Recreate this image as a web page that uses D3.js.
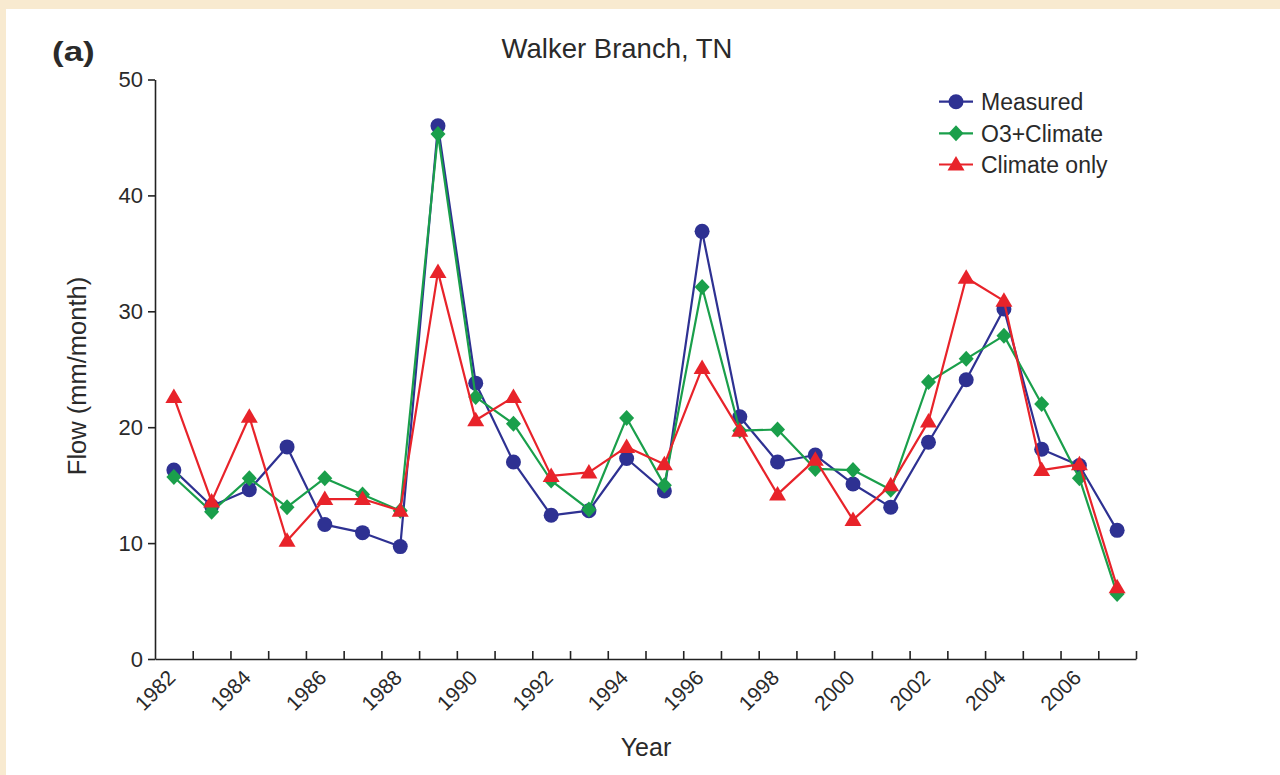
<!DOCTYPE html>
<html>
<head>
<meta charset="utf-8">
<script src="https://cdn.jsdelivr.net/npm/d3@7/dist/d3.min.js"></script>
<style>
  html, body { margin: 0; padding: 0; background: #f8ead0; }
  svg { display: block; }
  text { font-family: "Liberation Sans", Arial, Helvetica, sans-serif; fill: #2a2a2a; }
</style>
</head>
<body>
<svg id="chart" width="1280" height="775"></svg>
<script>
// ---- data ----
const years = d3.range(1982, 2008);
const measured  = [16.3, 13.2, 14.6, 18.3, 11.6, 10.9, 9.7, 46.0, 23.8, 17.0, 12.4, 12.8, 17.3, 14.5, 36.9, 20.9, 17.0, 17.6, 15.1, 13.1, 18.7, 24.1, 30.2, 18.1, 16.7, 11.1];
const o3Climate = [15.7, 12.7, 15.6, 13.1, 15.6, 14.2, 12.8, 45.3, 22.6, 20.3, 15.4, 12.9, 20.8, 15.0, 32.1, 19.7, 19.8, 16.4, 16.3, 14.6, 23.9, 25.9, 27.9, 22.0, 15.6, 5.6];
const climateOnly = [22.6, 13.6, 20.9, 10.2, 13.8, 13.8, 12.8, 33.4, 20.6, 22.6, 15.8, 16.1, 18.3, 16.8, 25.1, 19.7, 14.2, 17.2, 12.0, 15.0, 20.5, 32.9, 30.9, 16.3, 16.8, 6.2];
const seriesNames = ["Measured", "O3+Climate", "Climate only"];
const yTicks = [0, 10, 20, 30, 40, 50];
const xLabelYears = [1982, 1984, 1986, 1988, 1990, 1992, 1994, 1996, 1998, 2000, 2002, 2004, 2006];

const colors = ["#2e3192", "#1a9f4b", "#e8232a"];
const shapes = ["circle", "diamond", "triangle"];
const seriesData = [measured, o3Climate, climateOnly];

// ---- layout ----
const svg = d3.select("#chart");
// white panel
svg.append("rect").attr("x", 6).attr("y", 9).attr("width", 1274).attr("height", 766).attr("fill", "#ffffff");

const x = d3.scaleBand().domain(years).range([155, 1136]).paddingInner(0).paddingOuter(0);
const cx = d => x(d) + x.bandwidth() / 2;
const y = d3.scaleLinear().domain([0, 50]).range([659, 79.5]);

// y axis
const yAxis = d3.axisLeft(y).tickValues(yTicks).tickSizeInner(7).tickSizeOuter(0).tickPadding(5);
const gy = svg.append("g").attr("transform", "translate(155,0)").call(yAxis);
gy.selectAll("text").style("font-size", "22px").attr("fill", "#2a2a2a");
gy.selectAll("line, path").attr("stroke", "#222").attr("stroke-width", 1.6);

// x axis (ticks at year boundaries, pointing inward)
const xb = d3.scaleLinear().domain([years[0] - 0.5, years[years.length - 1] + 0.5]).range([155, 1136]);
const xAxis = d3.axisBottom(xb).tickValues(d3.range(years[0] + 0.5, years[years.length - 1] + 0.51, 1))
  .tickSizeInner(-8).tickSizeOuter(0).tickFormat("");
const gx = svg.append("g").attr("transform", "translate(0,659)").call(xAxis);
gx.selectAll("line, path").attr("stroke", "#222").attr("stroke-width", 1.6);

// x tick labels
svg.append("g").selectAll("text").data(xLabelYears).join("text")
  .attr("transform", d => `translate(${cx(d) + 3},679) rotate(-45)`)
  .attr("text-anchor", "end")
  .style("font-size", "21px")
  .text(d => d);

// axis titles
svg.append("text").attr("x", 646).attr("y", 756).attr("text-anchor", "middle")
  .style("font-size", "25px").text("Year");
svg.append("text").attr("transform", "translate(86,376) rotate(-90)").attr("text-anchor", "middle")
  .style("font-size", "25.5px").text("Flow (mm/month)");

// title and panel label
svg.append("text").attr("x", 617).attr("y", 58).attr("text-anchor", "middle")
  .style("font-size", "27.5px").text("Walker Branch, TN");
svg.append("text").attr("transform", "translate(52,61) scale(1.25,1)").style("font-size", "28px").style("font-weight", "bold").text("(a)");

// marker paths
function markerPath(shape) {
  if (shape === "circle") return d3.symbol().type(d3.symbolCircle).size(Math.PI * 7.5 * 7.5)();
  if (shape === "diamond") return "M0,-8L7.5,0L0,8L-7.5,0Z";
  return "M0,-8.5L8.5,6L-8.5,6Z";
}

const line = d3.line().x((d, i) => cx(years[i])).y(d => y(d));

seriesData.forEach((vals, k) => {
  const g = svg.append("g");
  g.append("path").datum(vals).attr("d", line)
    .attr("fill", "none").attr("stroke", colors[k]).attr("stroke-width", 2.2).attr("stroke-linejoin", "round");
  g.selectAll("path.m").data(vals).join("path").attr("class", "m")
    .attr("transform", (d, i) => `translate(${cx(years[i])},${y(d)})`)
    .attr("d", markerPath(shapes[k]))
    .attr("fill", colors[k]);
});

// legend
const legY = [101.7, 133.3, 164.5];
const leg = svg.append("g");
seriesNames.forEach((name, k) => {
  leg.append("line").attr("x1", 939).attr("x2", 973).attr("y1", legY[k]).attr("y2", legY[k])
    .attr("stroke", colors[k]).attr("stroke-width", 2.2);
  leg.append("path").attr("transform", `translate(956,${legY[k]})`).attr("d", markerPath(shapes[k])).attr("fill", colors[k]);
  leg.append("text").attr("x", 981).attr("y", legY[k]).attr("dy", "0.36em").style("font-size", "23px").text(name);
});
</script>
</body>
</html>
